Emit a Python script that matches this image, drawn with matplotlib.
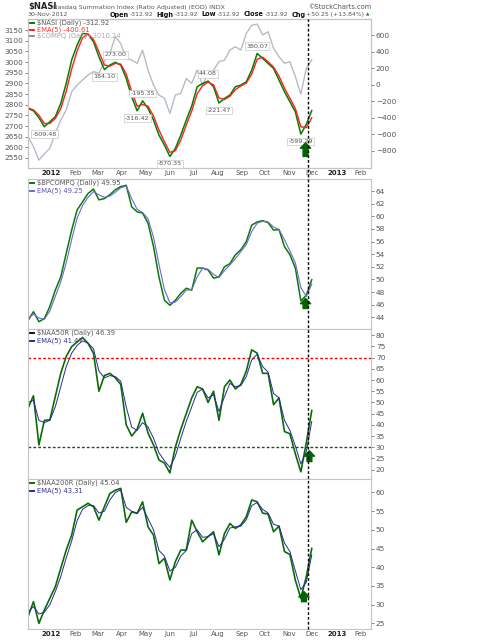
import matplotlib
matplotlib.use('Agg')
import matplotlib.pyplot as plt
import matplotlib.dates as mdates
from matplotlib.lines import Line2D
import pandas as pd

# weekly samples
dates = pd.date_range('2011-12-02', periods=53, freq='W-FRI')

nasi = [-287, -316, -400, -509.48, -449, -388, -227, 16, 299, 481,
        623, 615, 522, 340, 184.10, 239, 273.00, 239, 77, -146,
        -316.42, -195.35, -287, -429, -611, -732, -870.35, -773, -611, -429,
        -259, -24, 16, 44.08, -24, -221.47, -166, -125, -24, -4,
        36, 178, 380.07, 320, 259, 198, 57, -85, -206, -330,
        -599.29, -480, -312.92]
nasi_ema = [-280, -305, -370, -470, -470, -410, -290, -80, 190, 410,
            570, 615, 550, 400, 240, 225, 260, 250, 130, -80,
            -260, -240, -260, -380, -550, -690, -820, -800, -670, -490,
            -320, -110, -10, 30, 0, -160, -180, -140, -60, -15,
            20, 130, 310, 335, 280, 215, 105, -40, -165, -290,
            -510, -520, -400.61]
compq = [2650, 2603, 2540, 2570, 2595, 2666, 2728, 2775, 2861, 2892,
         2916, 2939, 2955, 2947, 3002, 3041, 3119, 3087, 3017, 3009,
         2994, 3056, 2962, 2892, 2845, 2830, 2759, 2845, 2853, 2923,
         2900, 2962, 2892, 2947, 2962, 3002, 3009, 3056, 3072, 3056,
         3134, 3173, 3178, 3127, 3142, 3064, 3025, 2994, 3002, 2931,
         2850, 2970, 3010.24]

bpcompq = [43.5, 44.9, 43.3, 43.8, 45.7, 48.3, 50.4, 54.1, 57.8, 61.0,
           62.3, 63.6, 64.3, 62.6, 62.8, 63.4, 64.2, 64.7, 64.9, 61.5,
           60.7, 60.5, 58.9, 55.2, 50.4, 46.7, 45.9, 46.7, 47.8, 48.6,
           48.3, 51.8, 51.8, 51.5, 50.2, 50.4, 52.0, 52.5, 53.9, 54.7,
           56.0, 58.6, 59.1, 59.3, 59.0, 57.8, 57.9, 55.2, 53.9, 51.8,
           46.6, 47.5, 49.95]
bpcompq_ema = [43.8, 44.5, 43.9, 43.7, 45.0, 47.3, 49.6, 52.6, 56.3, 59.7,
               61.7, 63.0, 63.9, 63.4, 63.0, 63.2, 63.8, 64.5, 64.8, 62.8,
               61.1, 60.6, 59.6, 56.7, 52.4, 48.4, 46.3, 46.4, 47.3, 48.3,
               48.4, 50.4, 51.8, 51.6, 50.8, 50.3, 51.4, 52.3, 53.3, 54.4,
               55.5, 57.6, 58.9, 59.2, 59.1, 58.3, 57.9, 56.3, 54.5, 52.6,
               48.7, 47.3, 49.25]

naa50r = [47.4, 53, 31, 42, 42.2, 52.6, 63, 70.5, 74.9, 77,
          79, 76.4, 72, 55, 62, 63, 61, 58, 40, 35,
          38, 45.2, 36.3, 31, 24.3, 22.9, 18.5, 30, 38, 45,
          52, 57, 56, 50, 55, 42, 57, 60, 56, 58,
          64, 73.5, 72, 63, 63, 49, 52, 37, 36, 27,
          19, 32, 46.39]
naa50r_ema = [50, 51, 42, 41, 42, 48, 57, 66, 72, 75.5,
              77.5, 76.5, 74, 64, 61, 62, 61.5, 59.5, 48, 39,
              37.5, 41, 39, 34, 27.5, 24, 21, 26, 34, 41.5,
              48, 54.5, 56, 52, 53.5, 46, 52.5, 58.5, 57, 57.5,
              61.5, 69, 71.5, 66, 63.5, 54, 52, 42, 37.5, 30.5,
              22.5, 28, 41.47]

naa200r = [26.8, 30.8, 25.0, 28.6, 31.7, 34.8, 39.7, 44.6, 48.6, 55.3,
           56.2, 57.1, 56.2, 52.6, 56.2, 59.7, 60.6, 61.1, 52.0, 54.8,
           54.4, 57.5, 50.8, 48.6, 41.0, 42.4, 36.6, 41.5, 44.6, 44.6,
           52.6, 49.5, 46.8, 48.2, 49.5, 43.3, 49.0, 51.7, 50.4, 51.3,
           53.5, 58.0, 57.5, 54.5, 54.2, 49.5, 51.0, 44.2, 43.4, 36.5,
           31.7, 37.5, 45.04]
naa200r_ema = [28, 29.5, 27.5, 28, 30, 33.5, 37.5, 42.5, 47, 52.5,
               55.5, 56.5, 56.5, 54.5, 55, 58, 60, 60.7, 56, 55,
               54.5, 56, 53, 50, 44.5, 43, 39, 40, 43, 44.5,
               49, 50, 48, 48.2, 49, 45.5, 47.5, 50.5, 50.8, 51,
               52.7, 56.5, 57.3, 55.5, 54.5, 51.5, 51, 46.5, 44.2, 39,
               34, 36, 43.31]

# labelled swing points on the $NASI line
nasi_label_idx = [3, 14, 16, 20, 21, 26, 33, 35, 42, 50]
nasi_label_up = [False, False, True, False, True, False, True, False, True, False]

month_ticks = pd.date_range('2012-01-01', '2013-02-01', freq='MS')
month_labels = ['2012', 'Feb', 'Mar', 'Apr', 'May', 'Jun', 'Jul', 'Aug',
                'Sep', 'Oct', 'Nov', 'Dec', '2013', 'Feb']

signal_date = pd.Timestamp('2012-11-25')
arrow_dates = [pd.Timestamp('2012-11-22'), pd.Timestamp('2012-11-22'),
               pd.Timestamp('2012-11-27'), pd.Timestamp('2012-11-20')]
arrow_spans = [(-870, -705), (45.4, 47.0), (23.6, 28.4), (30.8, 33.5)]

header_items = [('Open', '-312.92'), ('High', '-312.92'), ('Low', '-312.92'),
                ('Close', '-312.92'), ('Chg', '+50.25 (+13.84%)')]

x_lo, x_hi = pd.Timestamp('2011-12-02'), pd.Timestamp('2013-02-14')

W, H = 493, 640
fig = plt.figure(figsize=(W / 100, H / 100), dpi=100)
fig.patch.set_facecolor('white')

L, R = 28 / W, 371 / W

def box(top, bot):
    return [L, 1 - bot / H, R - L, (bot - top) / H]

ax1 = fig.add_axes(box(19, 168))
ax2 = fig.add_axes(box(179, 329))
ax3 = fig.add_axes(box(329, 479))
ax4 = fig.add_axes(box(479, 629))
ax1r = ax1.twinx()

tick_col = '#555555'
for a in (ax1, ax1r, ax2, ax3, ax4):
    for s in a.spines.values():
        s.set_color('#c4c4c4')
        s.set_linewidth(0.8)
    a.set_xlim(x_lo, x_hi)
    a.tick_params(axis='both', labelsize=5.3, colors=tick_col, length=2, width=0.5, pad=1.5)
    a.set_xticks(month_ticks)
    a.tick_params(axis='x', length=0)
for a in (ax2, ax3, ax4):
    a.yaxis.tick_right()
ax1r.yaxis.tick_right()
ax1.yaxis.tick_left()

# x labels only under panel 1 and panel 4
for a in (ax1r, ax2, ax3):
    a.set_xticklabels([])
for a in (ax1, ax4):
    a.set_xticklabels(month_labels, fontsize=5)
    a.tick_params(axis='x', pad=1.5)
    for k, t in enumerate(a.get_xticklabels()):
        if month_labels[k] in ('2012', '2013'):
            t.set_fontweight('bold')
            t.set_color('#222222')

# panel 1
ax1.plot(dates, compq, color='#b4bcc4', lw=1.0)
ax1.set_ylim(2503, 3202)
ax1.set_yticks(range(2550, 3151, 50))
ax1r.plot(dates, nasi, color='#008000', lw=1.1)
ax1r.plot(dates, nasi_ema, color='#ff2020', lw=1.0)
ax1r.set_ylim(-1010, 798)
ax1r.set_yticks(range(-800, 601, 200))
for i, up in zip(nasi_label_idx, nasi_label_up):
    ax1r.annotate('%.2f' % nasi[i], xy=(dates[i], nasi[i]),
                  xytext=(0, 5.3 if up else -5.3), textcoords='offset points',
                  ha='center', va='center', fontsize=4.6, color='#555555',
                  bbox=dict(boxstyle='square,pad=0.2', fc='white', ec='#c8c8c8', lw=0.5))

# panel 2
ax2.plot(dates, bpcompq, color='#0a7a0a', lw=1.1)
ax2.plot(dates, bpcompq_ema, color='#6a6acc', lw=0.8)
ax2.set_ylim(42.15, 65.9)
ax2.set_yticks(range(44, 65, 2))

# panel 3
ax3.axhline(70, color='#ff0000', lw=1.0, dashes=(2, 1.5))
ax3.axhline(30, color='#006600', lw=1.0, dashes=(2, 1.5))
ax3.plot(dates, naa50r, color='#0b6b0b', lw=1.2)
ax3.plot(dates, naa50r_ema, color='#2a2a90', lw=0.7)
ax3.set_ylim(15.8, 82.8)
ax3.set_yticks(range(20, 81, 5))

# panel 4
ax4.plot(dates, naa200r, color='#0b6b0b', lw=1.2)
ax4.plot(dates, naa200r_ema, color='#2a2a90', lw=0.7)
ax4.set_ylim(23.5, 63.6)
ax4.set_yticks(range(25, 61, 5))

# green up arrows
for a, d, (lo, hi) in zip((ax1r, ax2, ax3, ax4), arrow_dates, arrow_spans):
    a.annotate('', xy=(d, hi), xytext=(d, lo),
               arrowprops=dict(arrowstyle='simple,head_length=0.55,head_width=1.05,tail_width=0.5',
                               color='#006400', mutation_scale=7, shrinkA=0, shrinkB=0))

# legends
def legend(ax, rows, y0, dy):
    for k, (lc, txt, tc) in enumerate(rows):
        y = y0 - k * dy
        ax.add_line(Line2D([0.005, 0.017], [y, y], transform=ax.transAxes,
                           color=lc, lw=1.4, clip_on=False))
        ax.text(0.025, y, txt, transform=ax.transAxes, color=tc,
                fontsize=4.9, va='center', ha='left')

legend(ax1r, [('#008000', '$NASI (Daily) -312.92', '#555555'),
              ('#ff2020', 'EMA(5) -400.61', '#ff3030'),
              ('#8090a0', '$COMPQ (Daily) 3010.24', '#aaaaaa')], 0.972, 0.043)
legend(ax2, [('#0a7a0a', '$BPCOMPQ (Daily) 49.95', '#555555'),
             ('#6a6acc', 'EMA(5) 49.25', '#5555bb')], 0.972, 0.05)
legend(ax3, [('#111111', '$NAA50R (Daily) 46.39', '#555555'),
             ('#2a2a90', 'EMA(5) 41.47', '#333399')], 0.972, 0.05)
legend(ax4, [('#0b6b0b', '$NAA200R (Daily) 45.04', '#555555'),
             ('#2a2a90', 'EMA(5) 43.31', '#333399')], 0.972, 0.05)

# vertical dotted signal line across all panels
fig.canvas.draw()
renderer = fig.canvas.get_renderer()
xs = ax1.transData.transform((mdates.date2num(signal_date), 0))[0] / W
fig.add_artist(Line2D([xs, xs], [1 - 629 / H, 1 - 19 / H], transform=fig.transFigure,
                      color='black', lw=1.0, dashes=(2, 1.5)))

# header
fig.text(28 / W, 1 - 7 / H, '$NASI', fontsize=6, fontweight='bold', va='center', color='#222222')
fig.text(53 / W, 1 - 7 / H, 'Nasdaq Summation Index (Ratio Adjusted) (EOD) INDX',
         fontsize=4.5, va='center', color='#555555')
fig.text(371 / W, 1 - 7 / H, '\u00a9StockCharts.com', fontsize=4.8, va='center', ha='right', color='#555555')
fig.text(28 / W, 1 - 14.5 / H, '30-Nov-2012', fontsize=4.5, va='center', color='#555555')

x = 110
for name, val in header_items:
    t = fig.text(x / W, 1 - 14.5 / H, name, fontsize=4.7, va='center',
                 fontweight='bold', color='#111111')
    x += t.get_window_extent(renderer).width + 1
    t = fig.text(x / W, 1 - 14.5 / H, val, fontsize=4.4, va='center', color='#555555')
    x += t.get_window_extent(renderer).width + 3
fig.text((x - 1) / W, 1 - 14.5 / H, '\u25b2', fontsize=3.2, va='center', color='#008000')

fig.savefig('out.png', dpi=100)
